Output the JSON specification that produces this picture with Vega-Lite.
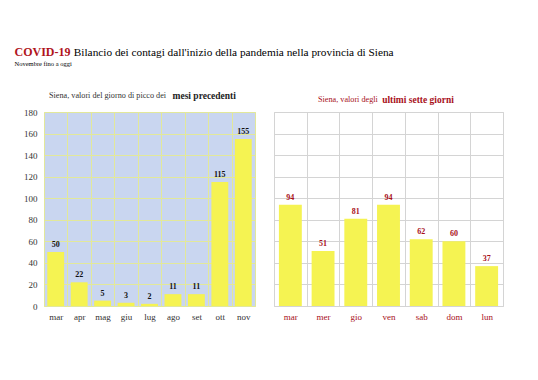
{
  "$schema": "https://vega.github.io/schema/vega-lite/v6.json",
  "background": "white",
  "padding": {"left": 14, "top": 46, "right": 10, "bottom": 10},
  "config": {
    "font": "Liberation Serif",
    "view": {"strokeWidth": 1},
    "concat": {"spacing": 17},
    "title": {"font": "Liberation Serif", "subtitleFont": "Liberation Serif"}
  },
  "title": {
    "text": "COVID-19",
    "subtitle": "\u200b\u00a0\u00a0\u00a0\u00a0\u00a0\u00a0\u00a0\u00a0\u00a0\u00a0\u00a0\u00a0\u00a0\u00a0\u00a0\u00a0\u00a0\u00a0\u00a0\u00a0\u00a0Bilancio dei contagi dall'inizio della pandemia nella provincia di Siena",
    "anchor": "start",
    "fontSize": 12,
    "fontWeight": "bold",
    "color": "#b0141c",
    "subtitleFontSize": 11.3,
    "subtitleFontWeight": "normal",
    "subtitleColor": "#000000",
    "subtitlePadding": -12,
    "offset": 1
  },
  "vconcat": [
    {
      "title": {
        "text": "Novembre fino a oggi",
        "anchor": "start",
        "fontSize": 6.5,
        "fontWeight": "normal",
        "color": "#000000",
        "offset": 23
      },
      "hconcat": [
        {
          "width": 211,
          "height": 194,
          "title": {
            "text": "Siena, valori del giorno di picco dei",
            "subtitle": "\u200b\u00a0\u00a0\u00a0\u00a0\u00a0\u00a0\u00a0\u00a0\u00a0\u00a0\u00a0\u00a0\u00a0\u00a0\u00a0\u00a0\u00a0\u00a0\u00a0\u00a0\u00a0\u00a0\u00a0\u00a0\u00a0\u00a0\u00a0\u00a0\u00a0\u00a0\u00a0\u00a0\u00a0\u00a0\u00a0\u00a0\u00a0\u00a0\u00a0\u00a0\u00a0\u00a0\u00a0\u00a0\u00a0\u00a0\u00a0\u00a0\u00a0\u00a0\u00a0\u00a0mesi precedenti",
            "anchor": "start",
            "frame": "group",
            "fontSize": 8.2,
            "fontWeight": "normal",
            "color": "#333333",
            "subtitleFontSize": 9.5,
            "subtitleFontWeight": "bold",
            "subtitleColor": "#222222",
            "subtitlePadding": -9.2,
            "dx": 5,
            "offset": 7
          },
          "view": {"fill": "#c9d6f0", "stroke": "#e2e89a"},
          "data": {
            "values": [
              {"mese": "mar", "valore": 50},
              {"mese": "apr", "valore": 22},
              {"mese": "mag", "valore": 5},
              {"mese": "giu", "valore": 3},
              {"mese": "lug", "valore": 2},
              {"mese": "ago", "valore": 11},
              {"mese": "set", "valore": 11},
              {"mese": "ott", "valore": 115},
              {"mese": "nov", "valore": 155}
            ]
          },
          "encoding": {
            "x": {
              "field": "mese",
              "type": "nominal",
              "sort": null,
              "scale": {"paddingInner": 0, "paddingOuter": 0},
              "axis": {
                "title": null,
                "labelAngle": 0,
                "labelFont": "Liberation Serif",
                "labelFontSize": 9,
                "labelColor": "#333333",
                "labelPadding": 6,
                "ticks": false,
                "domain": false,
                "grid": true,
                "tickBand": "extent",
                "gridColor": "#e2e89a",
                "gridWidth": 1
              }
            },
            "y": {
              "field": "valore",
              "type": "quantitative",
              "scale": {"domain": [0, 180], "nice": false},
              "axis": {
                "title": null,
                "values": [0, 20, 40, 60, 80, 100, 120, 140, 160, 180],
                "labelFont": "Liberation Serif",
                "labelFontSize": 9,
                "labelColor": "#333333",
                "labelPadding": 7,
                "ticks": false,
                "domain": false,
                "gridColor": "#e2e89a",
                "gridWidth": 1,
                "minExtent": 29
              }
            }
          },
          "layer": [
            {
              "mark": {"type": "bar", "color": "#f5f352", "width": {"band": 0.72}}
            },
            {
              "mark": {
                "type": "text",
                "dy": -7,
                "fontSize": 8,
                "fontWeight": "bold",
                "font": "Liberation Serif",
                "color": "#111111"
              },
              "encoding": {"text": {"field": "valore", "type": "quantitative"}}
            }
          ]
        },
        {
          "width": 229,
          "height": 194,
          "title": {
            "text": "Siena, valori degli",
            "subtitle": "\u200b\u00a0\u00a0\u00a0\u00a0\u00a0\u00a0\u00a0\u00a0\u00a0\u00a0\u00a0\u00a0\u00a0\u00a0\u00a0\u00a0\u00a0\u00a0\u00a0\u00a0\u00a0\u00a0\u00a0\u00a0\u00a0\u00a0\u00a0ultimi sette giorni",
            "anchor": "start",
            "frame": "group",
            "fontSize": 8.2,
            "fontWeight": "normal",
            "color": "#a8101a",
            "subtitleFontSize": 9.5,
            "subtitleFontWeight": "bold",
            "subtitleColor": "#a8101a",
            "subtitlePadding": -9.2,
            "dx": 44,
            "offset": 7
          },
          "view": {"fill": "white", "stroke": "#d4d4d4"},
          "data": {
            "values": [
              {"giorno": "mar", "valore": 94},
              {"giorno": "mer", "valore": 51},
              {"giorno": "gio", "valore": 81},
              {"giorno": "ven", "valore": 94},
              {"giorno": "sab", "valore": 62},
              {"giorno": "dom", "valore": 60},
              {"giorno": "lun", "valore": 37}
            ]
          },
          "encoding": {
            "x": {
              "field": "giorno",
              "type": "nominal",
              "sort": null,
              "scale": {"paddingInner": 0, "paddingOuter": 0},
              "axis": {
                "title": null,
                "labelAngle": 0,
                "labelFont": "Liberation Serif",
                "labelFontSize": 9,
                "labelColor": "#a8101a",
                "labelPadding": 6,
                "ticks": false,
                "domain": false,
                "grid": true,
                "tickBand": "extent",
                "gridColor": "#d4d4d4",
                "gridWidth": 1
              }
            },
            "y": {
              "field": "valore",
              "type": "quantitative",
              "scale": {"domain": [0, 180], "nice": false},
              "axis": {
                "title": null,
                "values": [0, 20, 40, 60, 80, 100, 120, 140, 160, 180],
                "labels": false,
                "ticks": false,
                "domain": false,
                "gridColor": "#d4d4d4",
                "gridWidth": 1
              }
            }
          },
          "layer": [
            {
              "mark": {"type": "bar", "color": "#f5f352", "width": {"band": 0.7}}
            },
            {
              "mark": {
                "type": "text",
                "dy": -7,
                "fontSize": 8,
                "fontWeight": "bold",
                "font": "Liberation Serif",
                "color": "#a8101a"
              },
              "encoding": {"text": {"field": "valore", "type": "quantitative"}}
            }
          ]
        }
      ]
    }
  ]
}
